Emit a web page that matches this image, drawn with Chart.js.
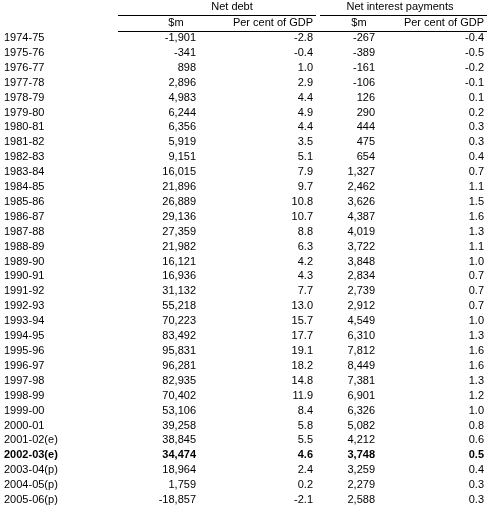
<!DOCTYPE html>
<html><head><meta charset="utf-8">
<script src="https://cdn.jsdelivr.net/npm/chart.js@4/dist/chart.umd.min.js"></script>
<style>html,body{margin:0;background:#fff}#wrap{width:489px;height:511px}</style>
</head><body><div id="wrap"><canvas id="chart"></canvas></div>
<script>
var years = ["1974-75","1975-76","1976-77","1977-78","1978-79","1979-80","1980-81","1981-82","1982-83","1983-84","1984-85","1985-86","1986-87","1987-88","1988-89","1989-90","1990-91","1991-92","1992-93","1993-94","1994-95","1995-96","1996-97","1997-98","1998-99","1999-00","2000-01","2001-02(e)","2002-03(e)","2003-04(p)","2004-05(p)","2005-06(p)"];
var netDebt = ["-1,901","-341","898","2,896","4,983","6,244","6,356","5,919","9,151","16,015","21,896","26,889","29,136","27,359","21,982","16,121","16,936","31,132","55,218","70,223","83,492","95,831","96,281","82,935","70,402","53,106","39,258","38,845","34,474","18,964","1,759","-18,857"];
var netDebtGdp = ["-2.8","-0.4","1.0","2.9","4.4","4.9","4.4","3.5","5.1","7.9","9.7","10.8","10.7","8.8","6.3","4.2","4.3","7.7","13.0","15.7","17.7","19.1","18.2","14.8","11.9","8.4","5.8","5.5","4.6","2.4","0.2","-2.1"];
var interest = ["-267","-389","-161","-106","126","290","444","475","654","1,327","2,462","3,626","4,387","4,019","3,722","3,848","2,834","2,739","2,912","4,549","6,310","7,812","8,449","7,381","6,901","6,326","5,082","4,212","3,748","3,259","2,279","2,588"];
var interestGdp = ["-0.4","-0.5","-0.2","-0.1","0.1","0.2","0.3","0.3","0.4","0.7","1.1","1.5","1.6","1.3","1.1","1.0","0.7","0.7","0.7","1.0","1.3","1.6","1.6","1.3","1.2","1.0","0.8","0.6","0.5","0.4","0.3","0.3"];
var boldRow = "2002-03(e)";

var columns = [netDebt, netDebtGdp, interest, interestGdp];
var colRight = [196, 313, 375, 484];

var tablePlugin = {
  id: "table",
  afterDraw: function (c) {
    var ctx = c.ctx, xs = c.scales.x, ys = c.scales.y;
    ctx.save();
    ctx.fillStyle = "#000";
    ctx.textBaseline = "middle";
    ctx.font = "11px 'Liberation Sans', Arial";
    ctx.textAlign = "center";
    ctx.fillText("Net debt", xs.getPixelForValue(232), 7);
    ctx.fillText("Net interest payments", xs.getPixelForValue(400), 7);
    ctx.fillText("$m", xs.getPixelForValue(176), 23);
    ctx.fillText("$m", xs.getPixelForValue(359), 23);
    ctx.textAlign = "right";
    ctx.fillText("Per cent of GDP", xs.getPixelForValue(313), 23);
    ctx.fillText("Per cent of GDP", xs.getPixelForValue(484), 23);
    ctx.strokeStyle = "#000";
    ctx.lineWidth = 1;
    ctx.beginPath();
    ctx.moveTo(118, 15.5); ctx.lineTo(316, 15.5);
    ctx.moveTo(320, 15.5); ctx.lineTo(487, 15.5);
    ctx.moveTo(118, 31.5); ctx.lineTo(487, 31.5);
    ctx.stroke();
    years.forEach(function (yr, i) {
      var y = ys.getPixelForValue(i);
      ctx.font = (yr === boldRow ? "bold " : "") + "11px 'Liberation Sans', Arial";
      ctx.textAlign = "left";
      ctx.fillText(yr, xs.getPixelForValue(4), y);
      ctx.textAlign = "right";
      columns.forEach(function (col, j) {
        ctx.fillText(col[i], xs.getPixelForValue(colRight[j]), y);
      });
    });
    ctx.restore();
  }
};

new Chart(document.getElementById("chart").getContext("2d"), {
  type: "scatter",
  data: { labels: years, datasets: [{ data: [] }] },
  options: {
    responsive: true, maintainAspectRatio: false, animation: false,
    layout: { padding: { top: 30.5, bottom: 3.5, left: 0, right: 0 } },
    plugins: { legend: { display: false }, tooltip: { enabled: false } },
    scales: {
      x: { type: "linear", min: 0, max: 489, display: false },
      y: { type: "category", offset: true, display: false }
    }
  },
  plugins: [tablePlugin]
});
</script>
</body></html>
